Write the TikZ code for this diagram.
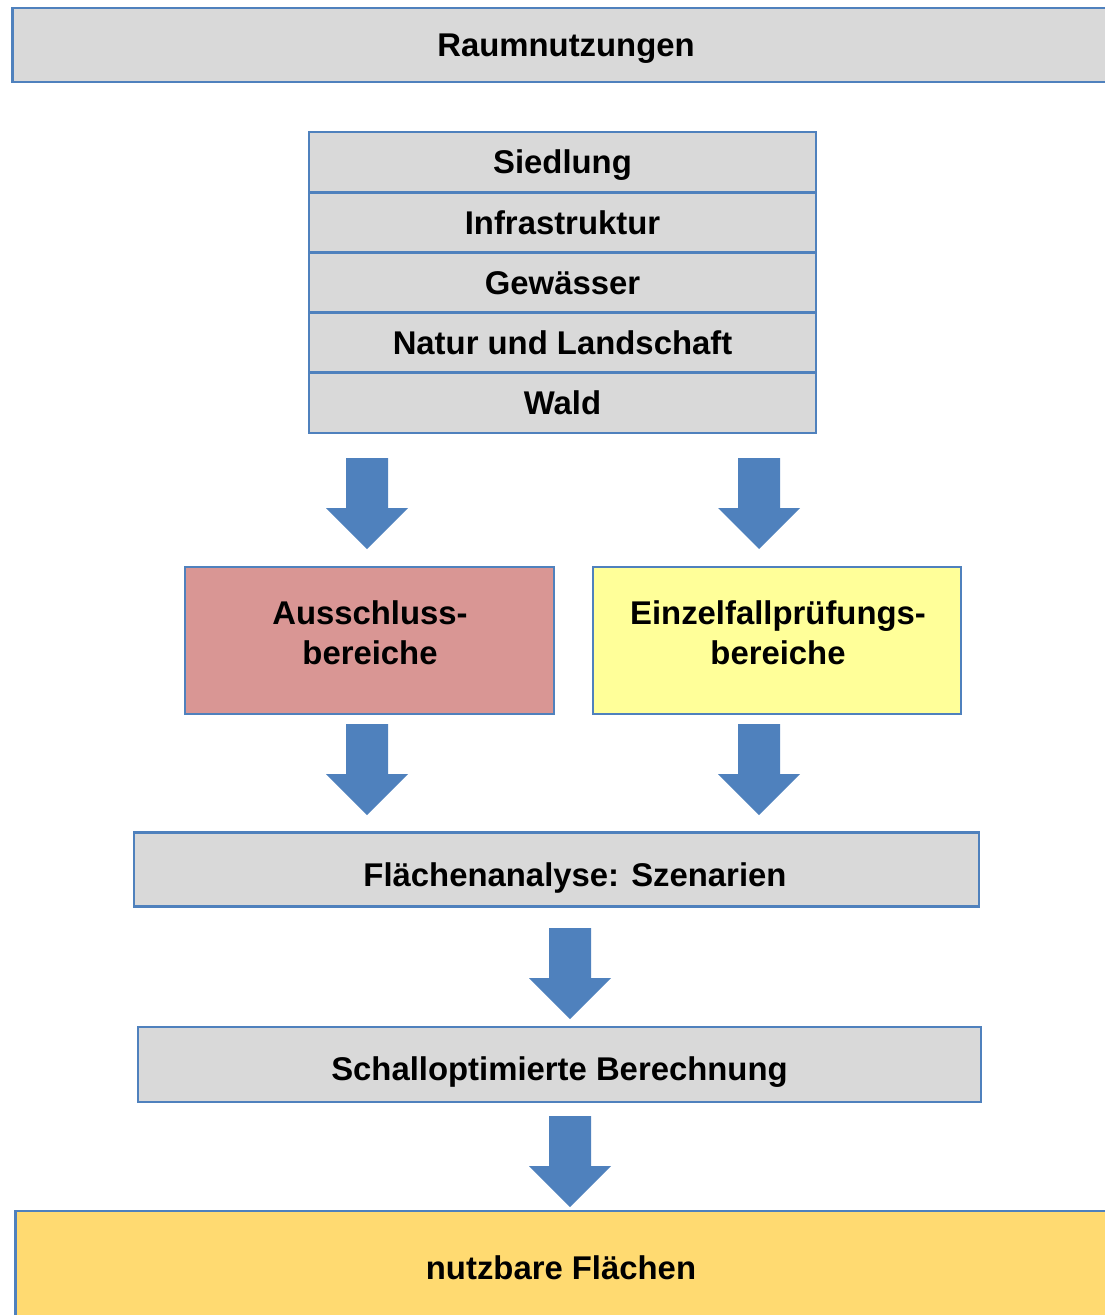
\documentclass[tikz,border=0pt]{standalone}
\usepackage{fontspec}
\setmainfont{Liberation Sans}
\usetikzlibrary{positioning,calc}

\definecolor{rahmen}{HTML}{4F81BD}
\definecolor{grau}{HTML}{D9D9D9}
\definecolor{rosa}{HTML}{D99694}
\definecolor{hellgelb}{HTML}{FFFF99}
\definecolor{gold}{HTML}{FFDA71}

\tikzset{
  schrift/.style={inner sep=0pt, outer sep=0pt, align=center,
    font=\bfseries\fontsize{18.7pt}{22.7pt}\selectfont},
  einzeilig/.style={text height=13.5pt, text depth=0pt},
  kasten/.style={schrift, draw=rahmen, fill=grau, line width=1.6pt},
  zeile/.style={kasten, einzeilig, minimum width=10.14cm, minimum height=1.204cm},
  pfeil/.style={fill=rahmen}
}

\begin{document}
\begin{tikzpicture}[x=0.02cm, y=-0.02cm]
  \clip (0,0) rectangle (1105,1315);
  % Kopfzeile
  \node[kasten, einzeilig, minimum width=22.16cm, minimum height=1.48cm] (raum) at (566,45) {Raumnutzungen};
  % Nutzungen
  \node[zeile] (siedlung) at (562.5,162.1) {Siedlung};
  \node[zeile, below=0pt of siedlung] (infra) {Infrastruktur};
  \node[zeile, below=0pt of infra] (gewaesser) {Gewässer};
  \node[zeile, below=0pt of gewaesser] (natur) {Natur und Landschaft};
  \node[zeile, below=0pt of natur] (wald) {Wald};
  % Bereiche
  \node[kasten, fill=rosa, minimum width=7.38cm, minimum height=2.94cm] (aus) at (369.5,640.5) {};
  \node[schrift] (austext) at (370,632.5) {Ausschluss-\\bereiche};
  \node[kasten, fill=hellgelb, minimum width=7.36cm, minimum height=2.94cm] (einzel) at (777,640.5) {};
  \node[schrift] (einzeltext) at (778,632.5) {Einzelfallprüfungs-\\bereiche};
  % Analyse
  \node[kasten, minimum width=16.9cm, minimum height=1.48cm] (flaeche) at (556.5,869.5) {};
  \node[schrift, einzeilig] (flaechetext) at (575,875) {Flächenanalyse: Szenarien};
  \node[kasten, minimum width=16.86cm, minimum height=1.5cm] (schall) at (559.5,1064.5) {};
  \node[schrift, einzeilig] (schalltext) at (559.5,1069) {Schalloptimierte Berechnung};
  % Ergebnis
  \node[kasten, einzeilig, fill=gold, minimum width=21.84cm, minimum height=2.28cm] (nutzbar) at (561,1268) {nutzbare Flächen};
  % Blockpfeile
  \foreach \x/\y in {367/458, 759/458, 367/724, 759/724, 570/928, 570/1116}
    \fill[pfeil] (\x-21,\y) -- ++(42,0) -- ++(0,50) -- ++(20,0) -- (\x,\y+91)
      -- (\x-41,\y+50) -- ++(20,0) -- cycle;
\end{tikzpicture}
\end{document}
